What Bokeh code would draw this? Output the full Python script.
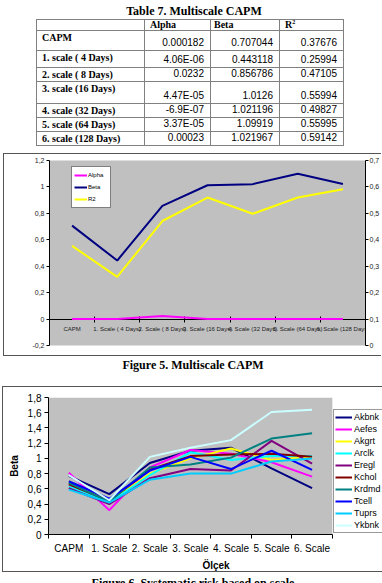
from bokeh.plotting import figure
from bokeh.models import (Range1d, LinearAxis, FixedTicker, CustomJSTickFormatter,
                          Legend, LegendItem, Div, BoxAnnotation)
from bokeh.layouts import column
from bokeh.embed import file_html
from bokeh.resources import INLINE

# ---- Table 7 / Figure 5 data -------------------------------------------
table_rows = ["CAPM", "1. scale ( 4 Days)", "2. scale ( 8 Days)", "3. scale (16 Days)",
              "4. scale (32 Days)", "5. scale (64 Days)", "6. scale (128 Days)"]
scale_labels = ["CAPM", "1. Scale ( 4 Days)", "2. Scale ( 8 Days)", "3. Scale (16 Days)",
                "4. Scale (32 Days)", "5. Scale (64 Days)", "6. Scale (128 Days)"]
alpha = [0.000182, 4.06e-06, 0.0232, 4.47e-05, -6.9e-07, 3.37e-05, 0.00023]
beta = [0.707044, 0.443118, 0.856786, 1.0126, 1.021196, 1.09919, 1.021967]
r2 = [0.37676, 0.25994, 0.47105, 0.55994, 0.49827, 0.55995, 0.59142]

left_ticks = [-0.2, 0, 0.2, 0.4, 0.6, 0.8, 1.0, 1.2]
right_ticks = [0, 0.1, 0.2, 0.3, 0.4, 0.5, 0.6, 0.7]

# ---- Figure 6 data (beta of each stock per scale) ------------------------
scale_short = ["CAPM", "1. Scale", "2. Scale", "3. Scale", "4. Scale", "5. Scale", "6. Scale"]
akbnk = [0.77, 0.53, 0.94, 1.10, 1.14, 0.87, 0.61]
aefes = [0.81, 0.32, 0.88, 1.11, 1.06, 0.95, 0.76]
akgrt = [0.70, 0.43, 0.80, 1.00, 1.13, 0.98, 1.02]
arclk = [0.63, 0.42, 0.78, 1.08, 0.98, 1.03, 1.03]
eregl = [0.61, 0.40, 0.74, 0.86, 0.84, 1.23, 0.93]
kchol = [0.66, 0.44, 0.85, 1.03, 1.05, 1.06, 1.02]
krdmd = [0.68, 0.43, 0.88, 0.92, 1.01, 1.26, 1.33]
tcell = [0.70, 0.47, 0.84, 1.02, 0.86, 1.10, 0.85]
tuprs = [0.59, 0.42, 0.72, 0.80, 0.80, 0.96, 1.00]
ykbnk = [0.78, 0.45, 1.02, 1.14, 1.24, 1.61, 1.64]
stock_names = ["Akbnk", "Aefes", "Akgrt", "Arclk", "Eregl", "Kchol", "Krdmd", "Tcell", "Tuprs", "Ykbnk"]
stock_series = [akbnk, aefes, akgrt, arclk, eregl, kchol, krdmd, tcell, tuprs, ykbnk]
stock_colors = ["#000080", "#FF00FF", "#FFFF00", "#00FFFF", "#800080",
                "#800000", "#008080", "#0000FF", "#00CCFF", "#CCFFFF"]
beta_ticks = [0, 0.2, 0.4, 0.6, 0.8, 1.0, 1.2, 1.4, 1.6, 1.8]

n_cat = len(scale_short)
x_pos = [i + 0.5 for i in range(n_cat)]
boundaries = list(range(n_cat + 1))

SANS = "Liberation Sans"
SERIF = "Liberation Serif"

comma_code = "const v = Math.round(tick * 10) / 10; return v.toString().replace('.', ',');"
cat_code = "return labels[Math.floor(tick)];"


def excel_general(v):
    return str(v).upper()


# ---- Table 7 -----------------------------------------------------------
row_heights = [20, 17, 13, 22, 12, 12, 12]
cell = "border:1px solid #808080;padding:0;"
lab = cell + "vertical-align:top;padding-left:5px;padding-top:1px;font:bold 10px/11px '%s';" % SERIF
num = cell + "vertical-align:bottom;text-align:right;padding-right:6px;padding-bottom:2px;font:10px/11px '%s';" % SANS
head = cell + "vertical-align:top;padding-left:5px;font:bold 10px/10px '%s';" % SERIF

rows_html = ""
for name, a, b, r, h in zip(table_rows, alpha, beta, r2, row_heights):
    rows_html += (
        f'<tr style="height:{h}px">'
        f'<td style="{lab}">{name}</td>'
        f'<td style="{num}">{excel_general(a)}</td>'
        f'<td style="{num}">{excel_general(b)}</td>'
        f'<td style="{num}">{excel_general(r)}</td></tr>'
    )

table_html = f"""
<div style="position:relative;width:382px;height:153px;background:white;overflow:hidden;">
  <div style="position:absolute;left:0;top:5px;width:388px;text-align:center;
              font:bold 12px/12px '{SERIF}';color:black;">Table 7. Multiscale CAPM</div>
  <table style="position:absolute;left:36px;top:19px;border-collapse:collapse;
                table-layout:fixed;width:307px;color:black;">
    <colgroup><col style="width:108px"><col style="width:66px">
              <col style="width:69px"><col style="width:64px"></colgroup>
    <tr style="height:10px"><td style="{head}"></td><td style="{head}">Alpha</td>
        <td style="{head}padding-left:3px;">Beta</td>
        <td style="{head}">R<sup style="font-size:6px;line-height:0;">2</sup></td></tr>
    {rows_html}
  </table>
</div>
"""
table_div = Div(text=table_html, width=382, height=153, margin=0)


def caption(text, height):
    html = (f'<div style="position:relative;width:382px;height:{height}px;overflow:hidden;">'
            f'<div style="position:absolute;left:0;top:3px;width:386px;text-align:center;'
            f"font:bold 12px/12px '{SERIF}';color:black;\">{text}</div></div>")
    return Div(text=html, width=382, height=height, margin=0)


box_style = {"border-top": "1px solid #555555", "border-bottom": "1px solid #555555",
             "border-left": "1px solid #555555", "background": "white"}

# ---- Figure 5 ----------------------------------------------------------
p5 = figure(width=378, height=203, x_range=Range1d(0, n_cat), y_range=Range1d(-0.2, 1.2),
            output_backend="svg", toolbar_location=None,
            x_axis_location=None, y_axis_location=None,
            min_border_left=19, min_border_right=12, min_border_top=6, min_border_bottom=12,
            background_fill_color="#C0C0C0", border_fill_color="white",
            outline_line_color=None, styles=box_style, margin=(0, 0, 0, 3))
p5.xgrid.visible = False
p5.ygrid.visible = False
p5.extra_y_ranges = {"r2": Range1d(0, 0.7)}

xax5 = LinearAxis(ticker=FixedTicker(ticks=x_pos, minor_ticks=boundaries),
                  formatter=CustomJSTickFormatter(args=dict(labels=scale_labels), code=cat_code),
                  fixed_location=0)
xax5.major_tick_line_color = None
xax5.major_tick_in = 0
xax5.major_tick_out = 3
xax5.minor_tick_in = 3
xax5.minor_tick_out = 3
xax5.major_label_standoff = 4
xax5.major_label_text_font = SANS
xax5.major_label_text_font_size = "6px"
xax5.major_label_text_color = "#222222"
xax5.axis_line_color = "black"
xax5.minor_tick_line_color = "black"
p5.add_layout(xax5, "below")

for side, ticks, rng in (("left", left_ticks, "default"), ("right", right_ticks, "r2")):
    ax = LinearAxis(ticker=FixedTicker(ticks=ticks),
                    formatter=CustomJSTickFormatter(code=comma_code), y_range_name=rng)
    ax.major_tick_in = 0
    ax.major_tick_out = 3
    ax.major_label_standoff = 2 if side == "left" else 1
    ax.major_label_text_font = SANS
    ax.major_label_text_font_size = "7px"
    ax.major_label_text_color = "#222222"
    ax.axis_line_color = "black"
    ax.major_tick_line_color = "black"
    p5.add_layout(ax, side)

r_alpha = p5.line(x_pos, alpha, line_color="#FF00FF", line_width=2, level="annotation")
r_beta = p5.line(x_pos, beta, line_color="#000080", line_width=2)
r_r2 = p5.line(x_pos, r2, line_color="#FFFF00", line_width=2, y_range_name="r2")

leg5 = Legend(items=[LegendItem(label="Alpha", renderers=[r_alpha]),
                     LegendItem(label="Beta", renderers=[r_beta]),
                     LegendItem(label="R2", renderers=[r_r2])],
              location=(22, 137), margin=0, padding=2, spacing=0,
              glyph_width=13, glyph_height=12, label_height=12, label_standoff=1,
              label_text_font=SANS, label_text_font_size="6px", label_text_color="black",
              border_line_color="black", border_line_width=1,
              background_fill_color="white", background_fill_alpha=1.0)
p5.add_layout(leg5)

# ---- Figure 6 ----------------------------------------------------------
# The frame runs on to the right edge so the legend has room beside the
# grey plot area; the grey area itself covers the category span only.
plot_px, frame_px = 283, 334
p6 = figure(frame_width=frame_px, frame_height=135,
            x_range=Range1d(0, n_cat * frame_px / plot_px), y_range=Range1d(0, 1.8),
            output_backend="svg", toolbar_location=None,
            x_axis_location=None, y_axis_location=None,
            min_border_left=45, min_border_right=0, min_border_top=10, min_border_bottom=38,
            background_fill_color="white", border_fill_color="white",
            outline_line_color=None, styles=box_style, margin=(0, 0, 0, 2))
p6.xgrid.visible = False
p6.ygrid.visible = False
p6.add_layout(BoxAnnotation(left=0, right=n_cat, bottom=0, top=1.8,
                            fill_color="#C0C0C0", fill_alpha=1.0, line_color=None,
                            level="underlay"))

xax6 = LinearAxis(ticker=FixedTicker(ticks=x_pos, minor_ticks=boundaries),
                  formatter=CustomJSTickFormatter(args=dict(labels=scale_short), code=cat_code),
                  axis_label="Ölçek", bounds=(0, n_cat))
xax6.major_tick_line_color = None
xax6.major_tick_in = 0
xax6.major_tick_out = 4
xax6.minor_tick_in = 0
xax6.minor_tick_out = 4
xax6.minor_tick_line_color = "black"
xax6.major_label_standoff = 4
xax6.major_label_text_font = SANS
xax6.major_label_text_font_size = "10px"
xax6.major_label_text_color = "black"
xax6.axis_label_standoff = 3
xax6.axis_label_text_font = SANS
xax6.axis_label_text_font_style = "bold"
xax6.axis_label_text_font_size = "10px"
xax6.axis_label_text_color = "black"
xax6.axis_line_color = "black"
p6.add_layout(xax6, "below")

yax6 = LinearAxis(ticker=FixedTicker(ticks=beta_ticks),
                  formatter=CustomJSTickFormatter(code=comma_code), axis_label="Beta")
yax6.major_tick_in = 0
yax6.major_tick_out = 4
yax6.major_label_standoff = 3
yax6.major_label_text_font = SANS
yax6.major_label_text_font_size = "10px"
yax6.major_label_text_color = "black"
yax6.axis_label_standoff = 5
yax6.axis_label_text_font = SANS
yax6.axis_label_text_font_style = "bold"
yax6.axis_label_text_font_size = "10px"
yax6.axis_label_text_color = "black"
yax6.axis_line_color = "black"
yax6.major_tick_line_color = "black"
p6.add_layout(yax6, "left")

items6 = []
for name, series, color in zip(stock_names, stock_series, stock_colors):
    r = p6.line(x_pos, series, line_color=color, line_width=2)
    items6.append(LegendItem(label=name, renderers=[r]))

leg6 = Legend(items=items6, location=(285, 1), margin=0, padding=1, spacing=0,
              glyph_width=17, glyph_height=12, label_height=12, label_standoff=2,
              label_text_font=SANS, label_text_font_size="9px", label_text_color="black",
              border_line_color="#333333", border_line_width=1,
              background_fill_color="white", background_fill_alpha=1.0)
p6.add_layout(leg6)

page = column(table_div, p5, caption("Figure 5. Multiscale CAPM", 30), p6,
              caption("Figure 6. Systematic risk based on scale", 10),
              margin=0, spacing=0)

open("out.html", "w").write(file_html(page, INLINE))
